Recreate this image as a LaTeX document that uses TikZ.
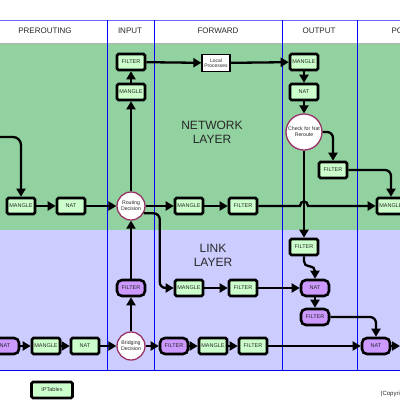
\documentclass[tikz,border=0pt]{standalone}
\usepackage{fontspec}
\setmainfont{Liberation Sans}
\usetikzlibrary{arrows.meta,calc}
\definecolor{netgreen}{RGB}{145,210,160}
\definecolor{linkblue}{RGB}{204,204,255}
\definecolor{boxgreen}{RGB}{204,255,204}
\definecolor{boxpurple}{RGB}{204,153,255}
\definecolor{circ}{RGB}{153,51,102}
\definecolor{txt}{RGB}{40,40,40}
\begin{document}
\begin{tikzpicture}[x=1pt,y=-1pt,
 gbox/.style={draw=black,line width=2.6pt,fill=boxgreen,rounded corners=1.5pt,minimum width=28pt,minimum height=16pt,inner sep=0pt,font=\fontsize{5.5}{6}\selectfont,text=txt},
 pbox/.style={gbox,fill=boxpurple,rounded corners=5pt},
 dec/.style={circle,draw=circ,line width=1.3pt,fill=white,inner sep=0pt,align=center,font=\fontsize{5.2}{6}\selectfont,text=txt},
 conn/.style={draw=black,line width=2.3pt,-{Triangle[length=8pt,width=9pt]}},
 hdr/.style={font=\fontsize{8}{9}\selectfont,text=txt},
 layer/.style={font=\fontsize{12}{14}\selectfont,text=txt,align=center},
 sep/.style={draw=blue,line width=0.8pt}]
\useasboundingbox (0,0) rectangle (400,400);
\clip (0,0) rectangle (400,400);
% backgrounds
\fill[white] (0,0) rectangle (400,400);
\fill[netgreen] (0,43) rectangle (400,230);
\fill[linkblue] (0,230) rectangle (400,370);
\draw[sep,draw=blue!60] (0,20) -- (400,20);
\draw[draw=gray!60,line width=0.6pt] (0,43) -- (400,43);
\draw[sep] (0,370) -- (400,370);
\foreach \x in {107,154,282,357} \draw[sep] (\x,20) -- (\x,370);
% headers
\node[hdr] (h1) at (45,31) {PREROUTING};
\node[hdr] (h2) at (130,31) {INPUT};
\node[hdr] (h3) at (218,31) {FORWARD};
\node[hdr] (h4) at (319,31) {OUTPUT};
\node[hdr,anchor=west] (h5) at (388,31) {POSTROUTING};
\node[layer] (nl) at (212,132) {NETWORK\\LAYER};
\node[layer] (ll) at (213,255) {LINK\\LAYER};
% network layer nodes
\node[gbox] (pm) at (21,206) {MANGLE};
\node[gbox] (pn) at (71,206) {NAT};
\node[dec,minimum size=28pt] (rd) at (131,206) {Routing\\Decision};
\node[gbox] (im) at (131,92) {MANGLE};
\node[gbox] (ifl) at (131,62) {FILTER};
\node[draw=black,line width=1.3pt,fill=white,minimum width=28pt,minimum height=17pt,inner sep=0pt,align=center,font=\fontsize{5}{5.5}\selectfont,text=txt] (lp) at (216,63) {Local\\Processes};
\node[gbox] (om) at (304,62) {MANGLE};
\node[gbox] (on) at (304,92) {NAT};
\node[dec,minimum size=36pt] (cn) at (304,132) {Check for Nat\\Reroute};
\node[gbox] (of) at (333,170) {FILTER};
\node[gbox] (pom) at (391,206) {MANGLE};
\node[gbox] (fm) at (189,206) {MANGLE};
\node[gbox] (ff) at (243,206) {FILTER};
% link layer nodes
\node[gbox] (olf) at (304,247) {FILTER};
\node[pbox] (oln) at (315,288) {NAT};
\node[pbox] (olf2) at (315,317) {FILTER};
\node[pbox] (pon) at (376,346) {NAT};
\node[dec,minimum size=28pt] (bd) at (131,346) {Bridging\\Decision};
\node[pbox] (ilf) at (131,288) {FILTER};
\node[gbox] (flm) at (189,288) {MANGLE};
\node[gbox] (flf) at (243,288) {FILTER};
\node[pbox] (bf) at (174,346) {FILTER};
\node[gbox] (bm) at (213,346) {MANGLE};
\node[gbox] (bff) at (253,346) {FILTER};
\node[pbox] (bln) at (5,346) {NAT};
\node[gbox] (blm) at (46,346) {MANGLE};
\node[gbox] (bln2) at (85,346) {NAT};
% legend
\node[gbox,minimum width=41pt] (ipt) at (52,390) {IPTables};
\node[anchor=west,font=\fontsize{6}{7}\selectfont,text=txt] (cp) at (377,394) {(Copyright};
\coordinate (in1) at (-3,137);
\coordinate (out1) at (400,346);
% connectors
\draw[conn,rounded corners=8pt] (in1) -| (pm.north);
\draw[conn] (pm) -- (pn);
\draw[conn] (pn) -- (rd);
\draw[conn] (rd) -- (im);
\draw[conn] (im) -- (ifl);
\draw[conn] (ifl) -- (lp);
\draw[conn] (lp) -- (om);
\draw[conn] (om) -- (on);
\draw[conn] (on) -- (cn);
\draw[conn,rounded corners=6pt] (cn.east) -| (of.north);
\draw[conn] (cn) -- (olf);
\draw[conn,rounded corners=6pt] (of.east) -| (pom.north);
\draw[conn] (rd) -- (fm);
\draw[conn] (fm) -- (ff);
\draw[conn] (ff.east) -- ($(cn.south |- ff.east)+(-4,0)$) .. controls +(0,-6) and +(0,-6) .. ++(8,0) -- (pom.west);
\draw[conn] (bd) -- (ilf);
\draw[conn] (ilf) -- (rd);
\draw[conn,rounded corners=6pt] (rd.-30) -| ($(flm.west)+(-14,0)$) -- (flm.west);
\draw[conn] (flm) -- (flf);
\draw[conn] (flf) -- (oln);
\draw[conn,rounded corners=5pt] (olf.south) -- ++(0,10) -| (oln.north);
\draw[conn] (oln) -- (olf2);
\draw[conn,rounded corners=6pt] (olf2.east) -| (pon.north);
\draw[conn] (bln) -- (blm);
\draw[conn] (blm) -- (bln2);
\draw[conn] (bln2) -- (bd);
\draw[conn] (bd) -- (bf);
\draw[conn] (bf) -- (bm);
\draw[conn] (bm) -- (bff);
\draw[conn] (bff) -- (pon);
\draw[conn] (pon) -- (out1);
\end{tikzpicture}
\end{document}
